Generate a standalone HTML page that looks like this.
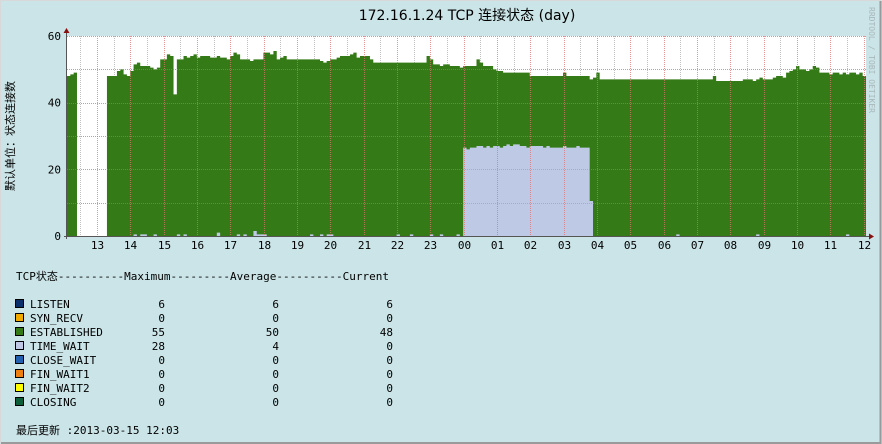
<!DOCTYPE html>
<html><head><meta charset="utf-8"><style>
html,body{margin:0;padding:0;background:#cce4e8;}
svg{display:block;}
text{font-family:"DejaVu Sans Mono","Liberation Mono","Noto Sans CJK SC",monospace;font-size:11px;fill:#000;}
</style></head><body>
<svg id="chart" width="882" height="444" viewBox="0 0 882 444">
<rect x="0" y="0" width="882" height="444" fill="#cbe4e7"/>
<rect x="0.5" y="0.5" width="880" height="442" fill="none" stroke="#d8d8d8"/>
<path d="M880.5 1 V443 H1" fill="none" stroke="#9a9a9a" stroke-width="2"/>
<text x="467" y="20" text-anchor="middle" style="font-family:'DejaVu Sans','Liberation Sans','Noto Sans CJK SC',sans-serif;font-size:14px">172.16.1.24 TCP 连接状态 (day)</text>
<text transform="translate(14,136) rotate(-90)" text-anchor="middle" style="font-family:'Noto Sans CJK SC',sans-serif;font-size:11px">默认单位：状态连接数</text>
<text transform="translate(869,60) rotate(90)" text-anchor="middle" style="font-size:8px;fill:#a8b8bc">RRDTOOL / TOBI OETIKER</text>
<rect x="67" y="36" width="799" height="200" fill="#ffffff"/>
<g id="grid"></g>
<g id="marks"></g>
<g id="overgrid"></g>
<g id="axes"></g>
<g id="legend"></g>
</svg>
<script>
const hourLabels = ["13","14","15","16","17","18","19","20","21","22","23","00","01","02","03","04","05","06","07","08","09","10","11","12"];
const yTicks = [0,20,40,60];
const established = [
48,48.5,49,null,null,null,null,null,null,
null,null,null,48,48,48,49.5,50,48.5,48,
49.5,51.5,52,51,51,51,50.5,50,50.5,53,
53,54.5,54,42.5,53,53,54,53.5,54,54.5,
53.5,54,54,54,53.5,53.5,54,53.5,53.5,53,
54,55,54.5,53,53,53,52.5,53,53,53,
55,55,54.5,55.5,53,53.5,54,53,53,53,
53,53,53,53,53,53,53,52.5,52,52.5,
53,53,53.5,54,54,54,54.5,55,53.5,54,
54,54,53,52,52,52,52,52,52,52,
52,52,52,52,52,52,52,52,52,54,
53,51.5,51.5,51,51.5,51.5,51,51,51,50.5,
51,51,51,51,53,52,51,51,51,50,
49.5,49.5,49,49,49,49,49,49,49,49,
48,48,48,48,48,48,48,48,48,48,
49,48,48,48,48,48,48,48,47,47.5,
49,47,47,47,47,47,47,47,47,47,
47,47,47,47,47,47,47,47,47,47,
47,47,47,47,47,47,47,47,47,47,
47,47,47,47,47,48,46.5,46.5,46.5,46.5,
46.5,46.5,46.5,46.5,47,47,47,46.5,47,47.5,
47,47,47,47.5,48,48,47.5,49,49.5,50,
51,50,50,49.5,50,51,50.5,49,49,49,
48.5,49,49,48.5,49,48.5,49,49,48.5,49,
48];
const timeWait = [
0,0,0,0,0,0,0,0,0,
0,0,0,0,0,0,0,0,0,0,
0,0.5,0,0.5,0.5,0,0,0.5,0,0,
0,0,0,0,0.5,0,0.5,0,0,0,
0,0,0,0,0,0,1,0,0,0,
0,0,0.5,0,0.5,0,0,1.5,0.5,0.5,
0.5,0,0,0,0,0,0,0,0,0,
0,0,0,0,0.5,0,0,0.5,0,0.5,
0.5,0,0,0,0,0,0,0,0,0,
0,0,0,0,0,0,0,0,0,0,
0.5,0,0,0,0.5,0,0,0,0,0,
0.5,0,0,0.5,0,0,0,0,0.5,0,
26.5,26,26.5,26.5,27,27,26.5,27,26.5,27,
27,26.5,27,27.5,27,27.5,27.5,27,27,26.5,
27,27,27,27,26.5,27,26.5,26.5,26.5,26.5,
27,26.5,26.5,26.5,27,26.5,26.5,26.5,10.5,0,
0,0,0,0,0,0,0,0,0,0,
0,0,0,0,0,0,0,0,0,0,
0,0,0,0,0.5,0,0,0,0,0,
0,0,0,0,0,0,0,0,0,0,
0,0,0,0,0,0,0,0,0.5,0,
0,0,0,0,0,0,0,0,0,0,
0,0,0,0,0,0,0,0,0,0,
0,0,0,0,0,0.5,0,0,0,0,
0];
const legendNames = ["LISTEN","SYN_RECV","ESTABLISHED","TIME_WAIT","CLOSE_WAIT","FIN_WAIT1","FIN_WAIT2","CLOSING"];
const legendColors = ["#0b2f6b","#f2a900","#347a16","#c0c8e6","#2360b0","#ee7f10","#ffff00","#0c5e38"];
const legendMax = ["6","0","55","28","0","0","0","0"];
const legendAvg = ["6","0","50","4","0","0","0","0"];
const legendCur = ["6","0","48","0","0","0","0","0"];

const NS="http://www.w3.org/2000/svg";
const X0=67, X1=866, Y0=236, Y1=36;
const stepW=(X1-X0)/established.length;
const xIdx=i=>X0+i*stepW;
const hourX=k=>97+k*33.333;
const px=v=>Math.round(v)+0.5;
const yv=v=>Y0-(v/60)*(Y0-Y1);
function mk(tag,attrs,parent){const e=document.createElementNS(NS,tag);for(const k in attrs)e.setAttribute(k,attrs[k]);parent.appendChild(e);return e;}
const grid=document.getElementById('grid'),marks=document.getElementById('marks'),over=document.getElementById('overgrid'),axes=document.getElementById('axes'),legend=document.getElementById('legend');

for(let v=10;v<60;v+=10){const y=px(yv(v));const l=mk('line',{x1:X0,x2:X1,y1:y,y2:y,stroke:'#c0c0c0','stroke-dasharray':'1,1'},grid);

}
for(let k=-1;k<hourLabels.length;k++){const xm=px(hourX(k)+16.67);if(xm>X0&&xm<X1){const l=mk('line',{x1:xm,x2:xm,y1:Y1,y2:Y0,stroke:'#c0c0c0','stroke-dasharray':'1,1'},grid);

}}

const pathFrom=(arr)=>{let d='';let open=false;
for(let i=0;i<arr.length;i++){const v=arr[i];const xa=xIdx(i),xb=Math.min(xIdx(i+1),X1);
if(v==null||v<=0){if(open){d+=`L${xa} ${Y0}Z`;open=false;}continue;}
if(!open){d+=`M${xa} ${Y0}`;open=true;}
d+=`L${xa} ${yv(v)}L${xb} ${yv(v)}`;}
if(open)d+=`L${X1} ${Y0}Z`;return d;};
const est=mk('path',{d:pathFrom(established),fill:'#347a16'},marks);


const tw=mk('path',{d:pathFrom(timeWait),fill:'#bec9e6'},marks);



for(let v=10;v<60;v+=10){const y=px(yv(v));const l=mk('line',{x1:X0,x2:X1,y1:y,y2:y,stroke:v%20===0?'#b08a8a':'#8a9a8a','stroke-dasharray':'1,1','stroke-opacity':0.55},over);

}
hourLabels.forEach((h,k)=>{const x=px(hourX(k));
if(x<X1){const l=mk('line',{x1:x,x2:x,y1:Y1,y2:Y0,stroke:'#e07070','stroke-dasharray':'1,1','stroke-opacity':0.75},over);

}
const t=mk('text',{x:x,y:249,'text-anchor':'middle'},axes);t.textContent=h;

});
const y60=mk('line',{x1:X0,x2:X1,y1:Y1+0.5,y2:Y1+0.5,stroke:'#e09090','stroke-dasharray':'1,1'},over);


yTicks.forEach(v=>{const t=mk('text',{x:61,y:yv(v)+4,'text-anchor':'end'},axes);t.textContent=String(v);

});

const ya=mk('path',{d:`M${X0-0.5} ${Y0+3}V${Y1-5}`,stroke:'#555','stroke-width':1},axes);


const xa=mk('path',{d:`M${X0-3} ${Y0+0.5}H${X1+4}`,stroke:'#555','stroke-width':1},axes);


const ar1=mk('path',{d:`M${X0-3.5} ${Y1-3}L${X0-0.5} ${Y1-8}L${X0+2.5} ${Y1-3}Z`,fill:'#8a1010'},axes);


const ar2=mk('path',{d:`M${X1+3} ${Y0-2.5}L${X1+8} ${Y0+0.5}L${X1+3} ${Y0+3.5}Z`,fill:'#8a1010'},axes);



const hdr=mk('text',{x:16,y:280},legend);hdr.textContent='TCP状态----------Maximum---------Average----------Current';


legendNames.forEach((n,i)=>{const y=308+i*14;
const sw=mk('rect',{x:15.5,y:y-8.5,width:8,height:8,fill:legendColors[i],stroke:'#000','stroke-width':1},legend);


const t=mk('text',{x:30,y:y},legend);t.textContent=n;


[[legendMax,165],[legendAvg,279],[legendCur,393]].forEach(([arr,x])=>{const v=mk('text',{x:x,y:y,'text-anchor':'end'},legend);v.textContent=arr[i];

});});
const upd=mk('text',{x:16,y:434},legend);upd.textContent='最后更新 :2013-03-15 12:03';


</script>
</body></html>
